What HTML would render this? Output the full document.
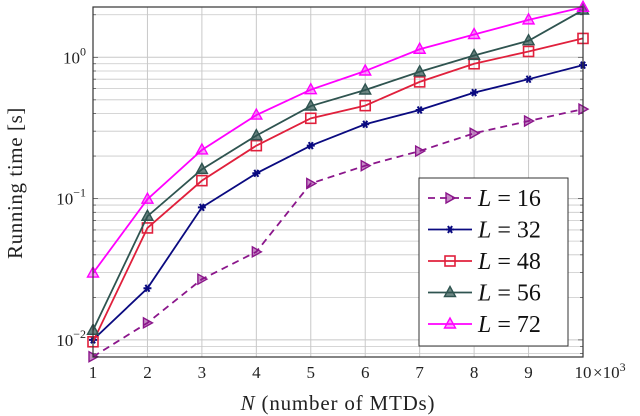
<!DOCTYPE html>
<html><head><meta charset="utf-8"><style>
body{margin:0;background:#fff;width:640px;height:416px;overflow:hidden}
svg{display:block;font-family:"Liberation Serif",serif}
</style></head><body>
<svg id="chart" width="640" height="416"></svg>
<script>
const categories=[1,2,3,4,5,6,7,8,9,10];
const seriesL16=[0.0076,0.0132,0.0269,0.042,0.128,0.171,0.217,0.29,0.354,0.43];
const seriesL32=[0.0100,0.0232,0.0867,0.151,0.237,0.336,0.424,0.562,0.70,0.88];
const seriesL48=[0.0097,0.062,0.134,0.237,0.37,0.455,0.67,0.90,1.10,1.36];
const seriesL56=[0.0117,0.075,0.161,0.279,0.452,0.587,0.79,1.03,1.31,2.16];
const seriesL72=[0.0297,0.099,0.221,0.39,0.59,0.80,1.14,1.45,1.84,2.26];
const xTickLabels=["1","2","3","4","5","6","7","8","9","10"];
const yTickExps=[-2,-1,0];
const legendLabels=["16","32","48","56","72"];

const NS="http://www.w3.org/2000/svg";
const svg=document.getElementById('chart');
const L=93,R=583,T=7,B=357;
const X=v=>L+(v-1)*(R-L)/9;
const Y=v=>57.3-Math.log10(v)*141.3;
function mk(tag,attrs,parent){const e=document.createElementNS(NS,tag);for(const k in attrs)e.setAttribute(k,attrs[k]);(parent||svg).appendChild(e);return e;}

const grid=mk('g',{});


for(let d=-3;d<=0;d++)for(let m=1;m<=9;m++){const v=m*Math.pow(10,d);const y=Y(v);if(y<T||y>B)continue;
 const gl=mk('line',{x1:L,x2:R,y1:y,y2:y,stroke:'#c8c8c8','stroke-width':m==1?1:0.8},grid);
 
 
 const tl=mk('line',{x1:L,x2:L+(m==1?5:3),y1:y,y2:y,stroke:'#444','stroke-width':0.7},grid);
 
 
 const tr=mk('line',{x1:R,x2:R-(m==1?5:3),y1:y,y2:y,stroke:'#444','stroke-width':0.7},grid);
 
 }
categories.forEach((c,i)=>{const x=X(c);
 const gl=mk('line',{x1:x,x2:x,y1:T,y2:B,stroke:'#c8c8c8','stroke-width':1},grid);
 
 
 const t=mk('text',{x:x,y:378,'text-anchor':'middle','font-size':17,fill:'#222'});
 t.textContent=xTickLabels[i];
 
 
});
const exp=mk('text',{x:593,y:378,'font-size':17,fill:'#222'});
exp.innerHTML='×10<tspan dy="-7" font-size="12">3</tspan>';


yTickExps.forEach(e=>{const t=mk('text',{x:86,y:Y(Math.pow(10,e))+6,'font-size':17,fill:'#222','text-anchor':'end'});
 t.innerHTML='10<tspan dy="-8" font-size="12">'+(e<0?'−'+(-e):e)+'</tspan>';
 
 });

const series=[
 {d:seriesL16,c:'#8b168b',m:'tri-right',dash:'7,5',n:'line-l16'},
 {d:seriesL32,c:'#0a0a80',m:'star',n:'line-l32'},
 {d:seriesL48,c:'#e0203c',m:'square',n:'line-l48'},
 {d:seriesL56,c:'#2f5450',m:'tri-up',n:'line-l56'},
 {d:seriesL72,c:'#ff00ff',m:'tri-up-fill',n:'line-l72'}];
function marker(g,type,x,y,c){let e;
 if(type=='square'){e=mk('rect',{x:x-5,y:y-5,width:10,height:10,fill:'none',stroke:c,'stroke-width':1.6},g);}
 else if(type=='star'){e=mk('path',{d:`M${x-4} ${y}H${x+4}M${x-2} ${y-3.5}L${x+2} ${y+3.5}M${x+2} ${y-3.5}L${x-2} ${y+3.5}`,stroke:c,'stroke-width':2,fill:'none'},g);}
 else if(type=='tri-right'){e=mk('path',{d:`M${x-4} ${y-5}L${x+5} ${y}L${x-4} ${y+5}Z`,fill:c,'fill-opacity':0.5,stroke:c,'stroke-width':1.4},g);}
 else if(type=='tri-up'){e=mk('path',{d:`M${x} ${y-6}L${x+5.5} ${y+4}L${x-5.5} ${y+4}Z`,fill:c,'fill-opacity':0.7,stroke:c,'stroke-width':1.4},g);}
 else {e=mk('path',{d:`M${x} ${y-6}L${x+5.5} ${y+4}L${x-5.5} ${y+4}Z`,fill:c,'fill-opacity':0.4,stroke:c,'stroke-width':1.4},g);}
 
 }
series.forEach(s=>{const g=mk('g',{});
 
 
 const pts=s.d.map((v,i)=>X(categories[i])+','+Y(v)).join(' ');
 const pl=mk('polyline',{points:pts,fill:'none',stroke:s.c,'stroke-width':1.8,'stroke-dasharray':s.dash||'none'},g);
 
 
 s.d.forEach((v,i)=>marker(g,s.m,X(categories[i]),Y(v),s.c));});

const frame=mk('rect',{x:L,y:T,width:R-L,height:B-T,fill:'none',stroke:'#333','stroke-width':1.2});



const lg=mk('g',{});


mk('rect',{x:419,y:178,width:149,height:168,fill:'#fff',stroke:'#333','stroke-width':1},lg);
series.forEach((s,i)=>{const y=198+i*31.5;const e=mk('g',{},lg);
 
 
 mk('line',{x1:428,x2:472,y1:y,y2:y,stroke:s.c,'stroke-width':1.8,'stroke-dasharray':s.dash||'none'},e);
 marker(e,s.m,450,y,s.c);
 const t=mk('text',{x:478,y:y+8,'font-size':24,fill:'#111'},e);
 t.innerHTML='<tspan font-style="italic">L</tspan> = '+legendLabels[i];});

const yl=mk('text',{x:0,y:0,'font-size':21,fill:'#222','text-anchor':'middle','letter-spacing':'0.6',transform:'translate(22,183) rotate(-90)'});
yl.textContent='Running time [s]';


const xl=mk('text',{x:338,y:410,'font-size':21,fill:'#222','text-anchor':'middle','letter-spacing':'0.8'});
xl.innerHTML='<tspan font-style="italic">N</tspan> (number of MTDs)';


</script>
</body></html>
